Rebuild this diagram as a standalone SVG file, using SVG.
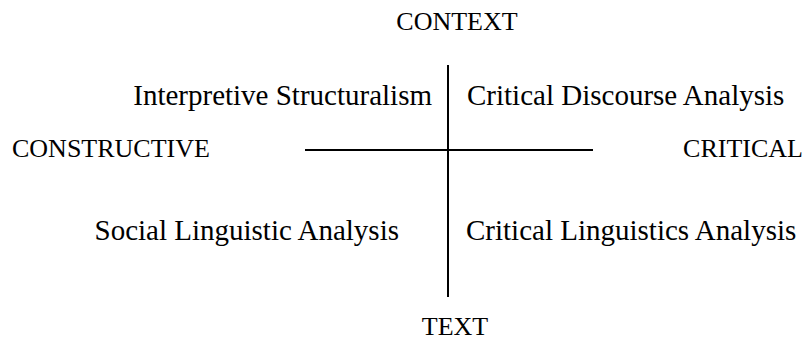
<svg xmlns="http://www.w3.org/2000/svg" width="807" height="341" viewBox="0 0 807 341">
  <style>
    .axis-label { font-family: "Liberation Serif", "Times New Roman", serif; font-size: 26px; fill: #000; }
    .quad-label { font-family: "Liberation Serif", "Times New Roman", serif; font-size: 29px; fill: #000; }
    .axis { stroke: #000; stroke-width: 2; fill: none; }
  </style>
  <rect width="807" height="341" fill="#fff"/>

  <!-- axes -->
  <g id="connectors">
    <line class="axis" x1="448" y1="65" x2="448" y2="297"/>
    <line class="axis" x1="305" y1="150" x2="593" y2="150"/>
  </g>

  <!-- axis end labels -->
  <g id="context"><text class="axis-label" x="457" y="30" text-anchor="middle">CONTEXT</text></g>
  <g id="text"><text class="axis-label" x="455" y="335" text-anchor="middle">TEXT</text></g>
  <g id="constructive"><text class="axis-label" x="12" y="157">CONSTRUCTIVE</text></g>
  <g id="critical"><text class="axis-label" x="803" y="157" text-anchor="end">CRITICAL</text></g>

  <!-- quadrant labels -->
  <g id="interpretive-structuralism"><text class="quad-label" x="432" y="105" text-anchor="end">Interpretive Structuralism</text></g>
  <g id="critical-discourse-analysis"><text class="quad-label" x="467" y="105">Critical Discourse Analysis</text></g>
  <g id="social-linguistic-analysis"><text class="quad-label" x="399" y="240" text-anchor="end">Social Linguistic Analysis</text></g>
  <g id="critical-linguistics-analysis"><text class="quad-label" x="466" y="240">Critical Linguistics Analysis</text></g>
</svg>
